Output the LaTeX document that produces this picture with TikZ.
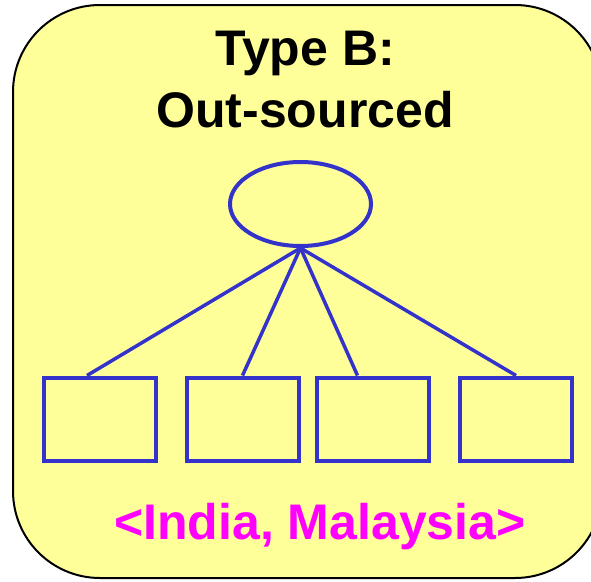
\documentclass[tikz,border=0pt]{standalone}
\usepackage{fontspec}
\setmainfont{Liberation Sans}
\usetikzlibrary{shapes.geometric}
\definecolor{bgyellow}{HTML}{FFFF99}
\definecolor{lineblue}{HTML}{3333CC}
\definecolor{magentatext}{HTML}{FF00FF}
\tikzset{
  unitbox/.style={draw=lineblue, line width=4pt, minimum width=112pt, minimum height=83pt, inner sep=0pt},
  link/.style={draw=lineblue, line width=3.5pt},
}
\begin{document}
\begin{tikzpicture}[x=1pt,y=-1pt]
\useasboundingbox (0,0) rectangle (591,581);
\path[fill=bgyellow, draw=black, line width=2pt, rounded corners=87pt] (13,5) rectangle (602,578);
\node[font=\bfseries\fontsize{50}{62}\selectfont, align=center, anchor=base, inner sep=0pt] (title) at (305,127) {Type B:\\Out-sourced};
\node[ellipse, draw=lineblue, line width=4pt, minimum width=141pt, minimum height=84pt, inner sep=0pt] (e) at (300.5,204) {};
\node[unitbox] (b1) at (100,419) {};
\node[unitbox] (b2) at (242.5,419) {};
\node[unitbox] (b3) at (372.5,419) {};
\node[unitbox] (b4) at (516,419) {};
\draw[link] (e.south) -- ([xshift=-13pt]b1.north);
\draw[link] (e.south) -- (b2.north);
\draw[link] (e.south) -- ([xshift=-15pt]b3.north);
\draw[link] (e.south) -- (b4.north);
\node[font=\bfseries\fontsize{50}{60}\selectfont, text=magentatext, anchor=base, inner sep=0pt] (countries) at (320,539) {<India, Malaysia>};
\end{tikzpicture}
\end{document}
